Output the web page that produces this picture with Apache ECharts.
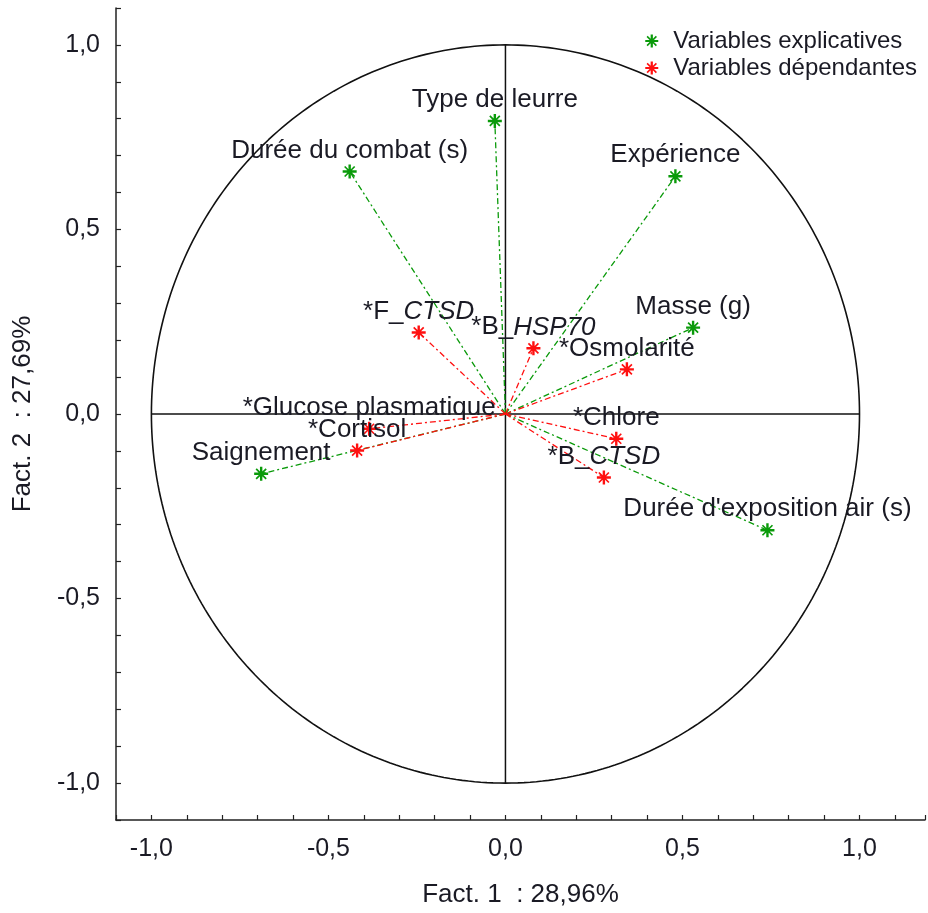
<!DOCTYPE html>
<html>
<head>
<meta charset="utf-8">
<script src="https://cdn.jsdelivr.net/npm/echarts@6/dist/echarts.min.js"></script>
<style>
  html, body { margin: 0; padding: 0; background: #fff; }
  #chart { width: 928px; height: 913px; }
</style>
</head>
<body>
<div id="chart"></div>
<script>
// variables explicatives (vert)
var explNames = ['Type de leurre', 'Durée du combat (s)', 'Expérience', 'Masse (g)', 'Saignement', "Durée d'exposition air (s)"];
var explX = [-0.03, -0.44, 0.48, 0.53, -0.69, 0.74];
var explY = [0.794, 0.657, 0.644, 0.234, -0.162, -0.315];

// variables dépendantes (rouge)
var depNames = ['*F_CTSD', '*B_HSP70', '*Osmolarité', '*Glucose plasmatique', '*Cortisol', '*Chlore', '*B_CTSD'];
var depX = [-0.245, 0.079, 0.343, -0.385, -0.419, 0.313, 0.278];
var depY = [0.221, 0.178, 0.121, -0.040, -0.099, -0.067, -0.172];

var xName = 'Fact. 1  : 28,96%';
var yName = 'Fact. 2  : 27,69%';
var legendNames = ['Variables explicatives', 'Variables dépendantes'];

(function() {
    var myChart = echarts.init(document.getElementById('chart'));

    var FONT = '"Liberation Sans", Arial, sans-serif';
    var GREEN = '#0a9a0a';
    var RED = '#ff1010';
    var TXT = '#1a1a24';
    var STAR = 'path://M-7,-1.2H7V1.2H-7Z M-1.2,-7H1.2V7H-1.2Z M-5.6,-4.4L-4.4,-5.6L5.6,4.4L4.4,5.6Z M4.4,-5.6L5.6,-4.4L-4.4,5.6L-5.6,4.4Z';

    // cercle des corrélations (rayon 1)
    var circle = [];
    for (var a = 0; a <= 360; a += 1) {
        var r = a * Math.PI / 180;
        circle.push([Math.cos(r), Math.sin(r)]);
    }

    function points(names, xs, ys) {
        return names.map(function(n, i) { return { name: n, value: [xs[i], ys[i]] }; });
    }
    function vectors(xs, ys) {
        return xs.map(function(x, i) { return { coords: [[0, 0], [x, ys[i]]] }; });
    }
    function fmtTick(v) {
        var k = Math.round(v * 10);
        if (k % 5 !== 0) return '';
        return (k / 10).toFixed(1).replace('.', ',');
    }

    var axisCommon = {
        type: 'value',
        interval: 0.1,
        nameLocation: 'middle',
        nameTextStyle: { fontSize: 26, color: TXT, fontFamily: FONT },
        axisLine: { onZero: false, lineStyle: { color: '#222', width: 1.5 } },
        axisTick: { inside: true, length: 5, interval: 0, lineStyle: { color: '#222', width: 1.2 } },
        axisLabel: { fontSize: 25, color: TXT, fontFamily: FONT, formatter: fmtTick, interval: 0, showMinLabel: true, showMaxLabel: true },
        splitLine: { show: false }
    };

    var labelStyle = {
        show: true,
        position: 'top',
        distance: 1,
        fontSize: 26,
        color: TXT,
        fontFamily: FONT,
        formatter: function(p) { return p.name.replace(/_(\w+)/, '_{i|$1}'); },
        rich: { i: { fontStyle: 'italic', fontSize: 26, color: TXT, fontFamily: FONT } }
    };

    var option = {
        animation: false,
        backgroundColor: '#fff',
        grid: { left: 116, right: 0, top: 8, bottom: 88 },
        xAxis: Object.assign({}, axisCommon, {
            min: -1.1, max: 1.185, name: xName, nameGap: 62,
            axisLabel: Object.assign({}, axisCommon.axisLabel, { margin: 17 })
        }),
        yAxis: Object.assign({}, axisCommon, {
            min: -1.1, max: 1.1, name: yName, nameGap: 80,
            axisLabel: Object.assign({}, axisCommon.axisLabel, { margin: 16 })
        }),
        legend: {
            orient: 'vertical',
            right: 6,
            top: 24,
            itemWidth: 13,
            itemHeight: 13,
            itemGap: 3,
            textStyle: { fontSize: 24, color: TXT, fontFamily: FONT, padding: [0, 0, 0, 10] },
            data: [
                { name: legendNames[0], icon: STAR, itemStyle: { color: GREEN } },
                { name: legendNames[1], icon: STAR, itemStyle: { color: RED } }
            ]
        },
        series: [
            {
                type: 'line', data: circle, symbol: 'none', silent: true,
                lineStyle: { color: '#111', width: 1.6 }, z: 1
            },
            {
                type: 'line', data: [[-1, 0], [1, 0]], symbol: 'none', silent: true,
                lineStyle: { color: '#111', width: 1.5 }, z: 1
            },
            {
                type: 'line', data: [[0, -1], [0, 1]], symbol: 'none', silent: true,
                lineStyle: { color: '#111', width: 1.5 }, z: 1
            },
            {
                type: 'lines', coordinateSystem: 'cartesian2d', silent: true, z: 2,
                data: vectors(explX, explY),
                lineStyle: { color: GREEN, width: 1.3, type: [6, 3, 2, 3], opacity: 1 }
            },
            {
                type: 'lines', coordinateSystem: 'cartesian2d', silent: true, z: 2,
                data: vectors(depX, depY),
                lineStyle: { color: RED, width: 1.3, type: [6, 3, 2, 3], opacity: 1 }
            },
            {
                name: legendNames[0], type: 'scatter', z: 3,
                symbol: STAR, symbolSize: 14,
                itemStyle: { color: GREEN, opacity: 1 },
                label: labelStyle,
                data: points(explNames, explX, explY)
            },
            {
                name: legendNames[1], type: 'scatter', z: 3,
                symbol: STAR, symbolSize: 14,
                itemStyle: { color: RED, opacity: 1 },
                label: labelStyle,
                data: points(depNames, depX, depY)
            }
        ]
    };
    myChart.setOption(option);
})();
</script>
</body>
</html>
